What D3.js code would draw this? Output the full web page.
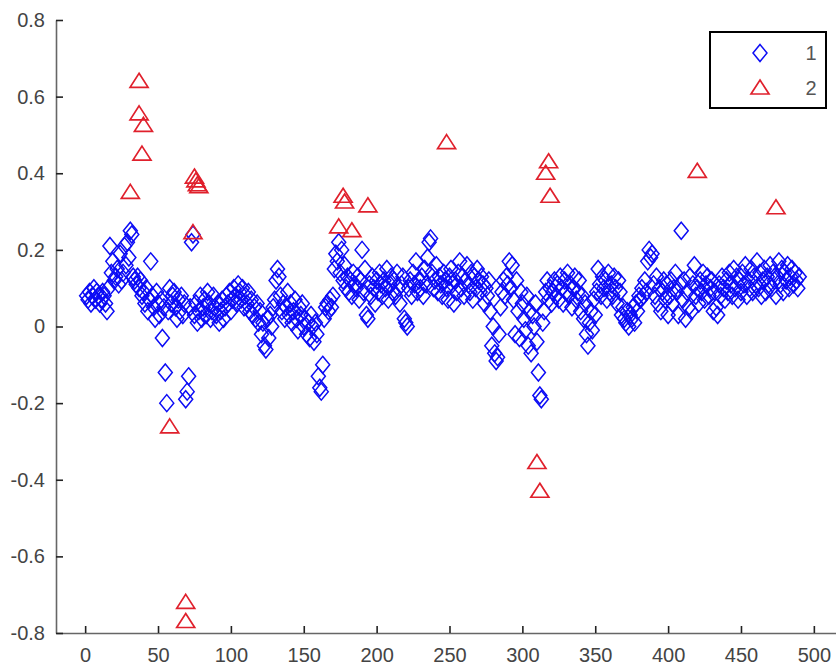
<!DOCTYPE html>
<html lang="en">
	<head>
		<meta charset="UTF-8" />
		<title>Scatter</title>
		<style>
			body { margin: 0; background: #fff; }
		</style>
	</head>
	<body>
		<svg id="svg" width="836" height="666"></svg>

		<script src="https://d3js.org/d3.v7.min.js"></script>
		<script>
			// series 1 (blue diamonds), one value per index starting at 1
			const series1 = [
				0.08, 0.07, 0.09, 0.06, 0.08, 0.10, 0.07, 0.09, 0.08, 0.06,
				0.07, 0.09, 0.08, 0.06, 0.04, 0.10, 0.21, 0.14, 0.17, 0.12,
				0.13, 0.15, 0.11, 0.19, 0.12, 0.14, 0.21, 0.16, 0.22, 0.18,
				0.25, 0.24, 0.13, 0.12, 0.11, 0.13, 0.10, 0.12, 0.08, 0.09,
				0.06, 0.10, 0.04, 0.07, 0.17, 0.08, 0.05, 0.02, 0.09, 0.06,
				0.03, 0.07, -0.03, 0.05, -0.12, -0.20, 0.04, 0.10, 0.06, 0.08,
				0.09, 0.05, 0.02, 0.07, 0.04, 0.08, 0.03, 0.06, -0.19, -0.17,
				-0.13, 0.05, 0.22, 0.24, 0.03, 0.06, 0.01, 0.04, 0.08, 0.02,
				0.05, 0.07, 0.03, 0.09, 0.06, 0.02, 0.04, 0.08, 0.05, 0.03,
				0.06, 0.01, 0.04, 0.07, 0.02, 0.05, 0.08, 0.06, 0.09, 0.04,
				0.07, 0.10, 0.08, 0.06, 0.11, 0.09, 0.07, 0.10, 0.05, 0.08,
				0.06, 0.09, 0.04, 0.07, 0.03, 0.05, 0.02, 0.06, 0.01, 0.04,
				-0.02, 0.01, -0.05, -0.06, 0.02, -0.03, 0.03, 0.00, 0.05, 0.07,
				0.12, 0.15, 0.13, 0.08, 0.04, 0.06, 0.02, 0.05, 0.09, 0.03,
				0.06, 0.01, 0.04, 0.07, 0.02, -0.01, 0.05, 0.03, 0.06, 0.00,
				0.02, -0.02, 0.01, -0.03, 0.03, 0.00, -0.04, 0.01, -0.02, -0.13,
				-0.16, -0.17, -0.10, 0.02, 0.05, 0.06, 0.04, 0.07, 0.05, 0.08,
				0.15, 0.19, 0.17, 0.22, 0.14, 0.20, 0.12, 0.16, 0.10, 0.13,
				0.09, 0.12, 0.08, 0.14, 0.11, 0.10, 0.13, 0.07, 0.12, 0.20,
				0.09, 0.15, 0.03, 0.02, 0.11, 0.08, 0.13, 0.10, 0.06, 0.12,
				0.09, 0.14, 0.11, 0.08, 0.12, 0.10, 0.15, 0.07, 0.11, 0.13,
				0.09, 0.12, 0.08, 0.14, 0.10, 0.06, 0.11, 0.13, 0.02, 0.01,
				0.00, 0.10, 0.12, 0.08, 0.14, 0.11, 0.17, 0.09, 0.12, 0.10,
				0.13, 0.08, 0.15, 0.11, 0.18, 0.22, 0.23, 0.14, 0.10, 0.12,
				0.16, 0.09, 0.13, 0.11, 0.08, 0.14, 0.12, 0.10, 0.07, 0.13,
				0.15, 0.11, 0.06, 0.12, 0.09, 0.14, 0.17, 0.10, 0.13, 0.08,
				0.12, 0.16, 0.11, 0.09, 0.14, 0.07, 0.13, 0.10, 0.15, 0.12,
				0.09, 0.13, 0.11, 0.06, 0.10, 0.08, 0.12, 0.04, -0.05, 0.00,
				-0.07, -0.09, -0.08, -0.02, 0.05, 0.09, 0.12, 0.08, 0.13, 0.11,
				0.17, 0.10, 0.16, 0.07, -0.02, 0.12, 0.04, -0.03, 0.09, 0.06,
				0.02, -0.01, 0.08, -0.05, 0.04, -0.07, 0.03, 0.00, 0.06, -0.04,
				-0.12, -0.18, -0.19, 0.01, 0.04, 0.09, 0.12, 0.07, 0.10, 0.06,
				0.09, 0.12, 0.08, 0.11, 0.07, 0.13, 0.10, 0.06, 0.12, 0.09,
				0.14, 0.08, 0.11, 0.05, 0.10, 0.13, 0.07, 0.09, 0.12, 0.04,
				0.08, 0.02, 0.06, -0.02, -0.05, 0.01, 0.04, -0.01, 0.07, 0.03,
				0.09, 0.15, 0.11, 0.08, 0.13, 0.10, 0.12, 0.07, 0.14, 0.09,
				0.11, 0.08, 0.13, 0.10, 0.06, 0.12, 0.09, 0.03, 0.05, 0.02,
				0.01, 0.04, 0.00, 0.03, 0.02, 0.05, 0.01, 0.06, 0.04, 0.08,
				0.07, 0.10, 0.08, 0.12, 0.09, 0.17, 0.20, 0.18, 0.19, 0.11,
				0.08, 0.13, 0.06, 0.10, 0.04, 0.09, 0.12, 0.07, 0.11, 0.03,
				0.08, 0.12, 0.06, 0.10, 0.14, 0.09, 0.03, 0.11, 0.25, 0.07,
				0.12, 0.02, 0.09, 0.05, 0.13, 0.04, 0.11, 0.16, 0.08, 0.10,
				0.06, 0.12, 0.09, 0.14, 0.07, 0.11, 0.13, 0.08, 0.10, 0.12,
				0.04, 0.09, 0.05, 0.03, 0.11, 0.08, 0.13, 0.10, 0.07, 0.12,
				0.09, 0.14, 0.11, 0.08, 0.15, 0.10, 0.13, 0.07, 0.12, 0.09,
				0.14, 0.11, 0.16, 0.08, 0.12, 0.10, 0.15, 0.09, 0.13, 0.11,
				0.17, 0.10, 0.14, 0.08, 0.12, 0.15, 0.09, 0.13, 0.11, 0.16,
				0.10, 0.14, 0.12, 0.08, 0.13, 0.17, 0.11, 0.15, 0.09, 0.14,
				0.12, 0.16, 0.10, 0.13, 0.15, 0.11, 0.14, 0.12, 0.10, 0.13
			];

			// series 2 (red triangles), sparse outliers
			const series2X = [31, 37, 37, 39, 40, 58, 69, 69, 74, 75, 76, 77, 78,
				174, 177, 178, 183, 194, 248, 310, 312, 316, 318, 319, 420, 474];
			const series2Y = [0.35, 0.64, 0.555, 0.45, 0.525, -0.262, -0.72, -0.77, 0.245, 0.39, 0.38, 0.37, 0.365,
				0.26, 0.34, 0.325, 0.25, 0.315, 0.48, -0.355, -0.43, 0.40, 0.43, 0.34, 0.405, 0.31];

			const xTicks = [0, 50, 100, 150, 200, 250, 300, 350, 400, 450, 500];
			const yTicks = [-0.8, -0.6, -0.4, -0.2, 0, 0.2, 0.4, 0.6, 0.8];
			const legendLabels = ['1', '2'];

			const svg = d3.select('#svg');

			const xScale = d3.scaleLinear().domain([-20, 520]).range([56, 843]);
			const yScale = d3.scaleLinear().domain([-0.8, 0.8]).range([633, 20]);

			const diamond = 'M0,-8.5L7,0L0,8.5L-7,0Z';
			const triangle = 'M0,-8L9,6L-9,6Z';
			const blue = '#0c0cf5';
			const red = '#e0202c';

			const fmt = (d) => (d === 0 ? '0' : String(d));

			// x axis, ticks pointing up into the plot
			const xAxis = svg
				.append('g')
				.attr('transform', 'translate(0,633)')
				.call(d3.axisBottom(xScale).tickValues(xTicks).tickFormat(fmt).tickSizeInner(-7).tickSizeOuter(0).tickPadding(15));

			// y axis, ticks pointing right
			const yAxis = svg
				.append('g')
				.attr('transform', 'translate(56,0)')
				.call(
					d3
						.axisLeft(yScale)
						.tickValues(yTicks)
						.tickFormat((d) => (d === 0 ? '0' : d.toFixed(1)))
						.tickSizeInner(-7)
						.tickSizeOuter(0)
						.tickPadding(11)
				);

			[xAxis, yAxis].forEach((ax) => {
				ax.select('.domain').attr('stroke', '#666').attr('stroke-width', 1.6);
				ax.selectAll('.tick line').attr('stroke', '#222').attr('stroke-width', 1.6);
				ax.selectAll('.tick text')
					.attr('fill', '#444')
					.style('font-family', 'Liberation Sans, Arial, sans-serif')
					.style('font-size', '20px');
			});

			// blue diamonds
			svg
				.append('g')
				.selectAll('path')
				.data(series1)
				.enter()
				.append('path')
				.attr('d', diamond)
				.attr('transform', (d, i) => `translate(${xScale(i + 1)},${yScale(d)})`)
				.attr('fill', 'none')
				.attr('stroke', blue)
				.attr('stroke-width', 1.5);

			// red triangles on top
			svg
				.append('g')
				.selectAll('path')
				.data(series2X)
				.enter()
				.append('path')
				.attr('d', triangle)
				.attr('transform', (d, i) => `translate(${xScale(d)},${yScale(series2Y[i])})`)
				.attr('fill', 'none')
				.attr('stroke', red)
				.attr('stroke-width', 1.7);

			// legend
			const legend = svg.append('g');
			legend
				.append('rect')
				.attr('x', 710)
				.attr('y', 32)
				.attr('width', 116)
				.attr('height', 76)
				.attr('fill', '#fff')
				.attr('stroke', '#000')
				.attr('stroke-width', 2);

			const items = legend
				.selectAll('g')
				.data(legendLabels)
				.enter()
				.append('g')
				.attr('transform', (d, i) => `translate(0,${53 + i * 35})`);
			items
				.append('path')
				.attr('d', (d, i) => (i === 0 ? diamond : triangle))
				.attr('transform', 'translate(760,0)')
				.attr('fill', 'none')
				.attr('stroke', (d, i) => (i === 0 ? blue : red))
				.attr('stroke-width', (d, i) => (i === 0 ? 1.5 : 1.7));
			items
				.append('text')
				.text((d) => d)
				.attr('x', 811)
				.attr('dy', '0.35em')
				.attr('text-anchor', 'middle')
				.attr('fill', '#555')
				.style('font-family', 'Liberation Sans, Arial, sans-serif')
				.style('font-size', '20px');
		</script>
	</body>
</html>
